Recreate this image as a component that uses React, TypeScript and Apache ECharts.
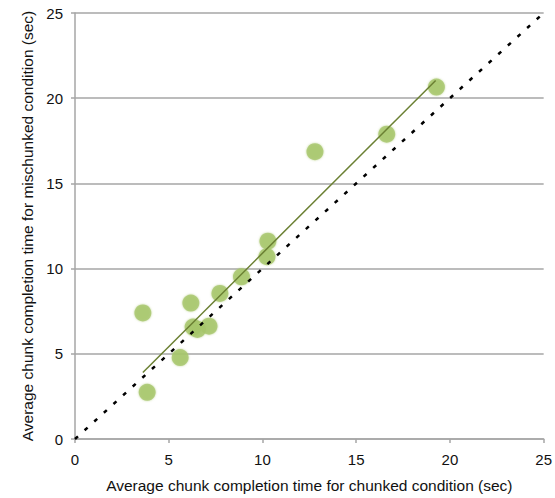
import React, { useEffect, useRef } from "react";
import * as echarts from "echarts";

const chunkedX = [3.62, 3.85, 5.61, 6.18, 6.30, 6.53, 7.15, 7.73, 8.88, 10.24, 10.29, 12.8, 16.63, 19.28];
const mischunkedY = [7.40, 2.74, 4.78, 7.98, 6.57, 6.43, 6.62, 8.54, 9.52, 10.70, 11.61, 16.86, 17.89, 20.65];
const trendX = [3.62, 19.24];
const trendY = [3.9, 21.04];
const identityX = [0, 25];
const identityY = [0, 25];

const xName = "Average chunk completion time for chunked condition (sec)";
const yName = "Average chunk completion time for mischunked condition (sec)";

export default function App() {
  const ref = useRef<HTMLDivElement>(null);
  useEffect(() => {
    document.body.style.margin = "0";
    const chart = echarts.init(ref.current!, null, { renderer: "svg" });
    const grey = "#a6a6a6";
    const font = "'Liberation Sans', Arial, Helvetica, sans-serif";
    chart.setOption({
      animation: false,
      textStyle: { fontFamily: font },
      grid: { left: 75, right: 8, top: 13, bottom: 56 },
      xAxis: {
        type: "value",
        min: 0,
        max: 25,
        interval: 5,
        name: xName,
        nameLocation: "middle",
        nameGap: 38,
        nameTextStyle: { fontSize: 15.5, color: "#111", fontFamily: font },
        axisLine: { show: true, lineStyle: { color: grey, width: 1.5 } },
        axisTick: { show: true, inside: false, length: 4, lineStyle: { color: grey, width: 1.5 } },
        axisLabel: { fontSize: 15, color: "#111", margin: 13, fontFamily: font },
        splitLine: { show: false },
      },
      yAxis: {
        type: "value",
        min: 0,
        max: 25,
        interval: 5,
        name: yName,
        nameLocation: "middle",
        nameGap: 34,
        nameTextStyle: { fontSize: 15.5, color: "#111", fontFamily: font },
        axisLine: { show: true, lineStyle: { color: grey, width: 1.5 } },
        axisTick: { show: true, inside: false, length: 4, lineStyle: { color: grey, width: 1.5 } },
        axisLabel: { fontSize: 15, color: "#111", margin: 12, fontFamily: font },
        splitLine: { show: true, lineStyle: { color: grey, width: 1.5 } },
      },
      series: [
        {
          type: "scatter",
          data: chunkedX.map((x, i) => [x, mischunkedY[i]]),
          symbol: "circle",
          symbolSize: 17,
          itemStyle: { color: "#a6c56a", shadowBlur: 2, shadowColor: "rgba(166,197,106,0.8)" },
          z: 2,
        },
        {
          type: "line",
          data: trendX.map((x, i) => [x, trendY[i]]),
          symbol: "none",
          lineStyle: { color: "#6b8033", width: 1.5 },
          z: 3,
        },
        {
          type: "line",
          data: identityX.map((x, i) => [x, identityY[i]]),
          symbol: "none",
          lineStyle: { color: "#000", width: 2.5, type: [4, 9] },
          z: 4,
        },
      ],
    });
    return () => chart.dispose();
  }, []);
  return <div ref={ref} style={{ width: 555, height: 498 }} />;
}
